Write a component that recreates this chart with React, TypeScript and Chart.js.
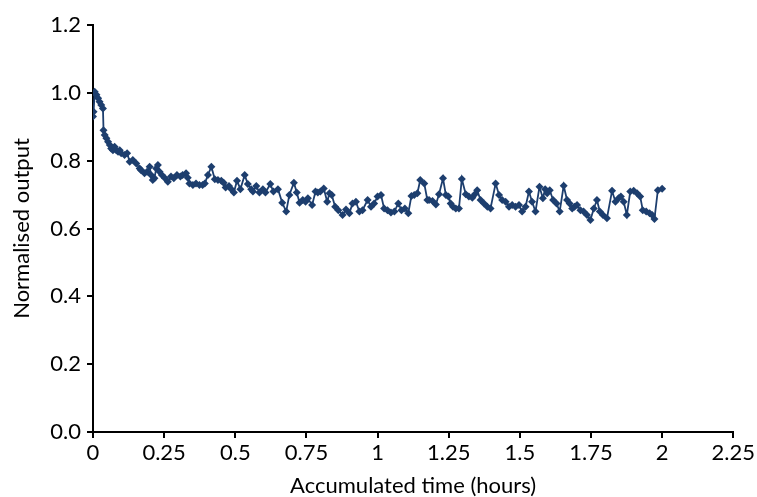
import React, { useEffect, useRef } from "react";
import { Chart, registerables } from "chart.js";

Chart.register(...registerables);

const times = [
  0.0, 0.002, 0.006, 0.012, 0.018, 0.023, 0.029, 0.035, 0.037, 0.041,
  0.047, 0.053, 0.059, 0.064, 0.07, 0.076, 0.082, 0.088, 0.094, 0.099,
  0.111, 0.12, 0.129, 0.14, 0.152, 0.164, 0.169, 0.181, 0.19, 0.199,
  0.204, 0.21, 0.216, 0.222, 0.228, 0.234, 0.242, 0.253, 0.263, 0.274,
  0.284, 0.295, 0.307, 0.315, 0.327, 0.333, 0.339, 0.351, 0.362, 0.374,
  0.385, 0.393, 0.404, 0.416, 0.428, 0.439, 0.451, 0.459, 0.466, 0.478,
  0.486, 0.495, 0.506, 0.518, 0.533, 0.544, 0.556, 0.562, 0.574, 0.585,
  0.597, 0.606, 0.623, 0.634, 0.65, 0.665, 0.679, 0.69, 0.706, 0.716,
  0.726, 0.737, 0.747, 0.755, 0.77, 0.782, 0.79, 0.799, 0.811, 0.823,
  0.831, 0.839, 0.851, 0.862, 0.877, 0.889, 0.901, 0.912, 0.924, 0.936,
  0.947, 0.965, 0.977, 0.988, 1.0, 1.012, 1.023, 1.035, 1.047, 1.059,
  1.073, 1.084, 1.096, 1.108, 1.119, 1.129, 1.14, 1.15, 1.164, 1.175,
  1.181, 1.193, 1.205, 1.216, 1.23, 1.24, 1.249, 1.257, 1.265, 1.275,
  1.286, 1.296, 1.31, 1.321, 1.333, 1.342, 1.35, 1.362, 1.374, 1.386,
  1.397, 1.415, 1.427, 1.438, 1.45, 1.462, 1.473, 1.485, 1.497, 1.508,
  1.52, 1.532, 1.543, 1.555, 1.569, 1.581, 1.589, 1.596, 1.605, 1.617,
  1.629, 1.64, 1.654, 1.666, 1.675, 1.684, 1.692, 1.701, 1.713, 1.724,
  1.736, 1.748, 1.76, 1.771, 1.781, 1.792, 1.806, 1.824, 1.836, 1.847,
  1.855, 1.865, 1.876, 1.888, 1.9, 1.912, 1.923, 1.932, 1.944, 1.956,
  1.965, 1.973, 1.985, 2.0,
];

const outputs = [
  0.93, 0.944, 1.003, 0.994, 0.984, 0.974, 0.964, 0.954, 0.89, 0.876,
  0.866, 0.856, 0.846, 0.836, 0.831, 0.841, 0.831, 0.826, 0.831, 0.822,
  0.817, 0.822, 0.797, 0.802, 0.792, 0.777, 0.772, 0.763, 0.767, 0.782,
  0.758, 0.743, 0.748, 0.777, 0.787, 0.767, 0.758, 0.748, 0.738, 0.753,
  0.748, 0.758, 0.753, 0.758, 0.763, 0.75, 0.733, 0.728, 0.733, 0.728,
  0.728, 0.733, 0.758, 0.782, 0.745, 0.743, 0.741, 0.735, 0.721, 0.725,
  0.716, 0.706, 0.741, 0.716, 0.758, 0.731, 0.716, 0.709, 0.725, 0.706,
  0.716, 0.706, 0.731, 0.709, 0.716, 0.676, 0.65, 0.699, 0.735, 0.706,
  0.676, 0.684, 0.679, 0.689, 0.669, 0.709, 0.706, 0.709, 0.718, 0.679,
  0.704, 0.699, 0.664, 0.654, 0.64, 0.656, 0.645, 0.674, 0.679, 0.65,
  0.654, 0.684, 0.664, 0.674, 0.694, 0.699, 0.659, 0.654, 0.647, 0.65,
  0.674, 0.654, 0.659, 0.645, 0.696, 0.699, 0.704, 0.743, 0.733, 0.684,
  0.684, 0.681, 0.671, 0.701, 0.748, 0.699, 0.694, 0.674, 0.664, 0.659,
  0.659, 0.746, 0.701, 0.694, 0.691, 0.701, 0.713, 0.684, 0.674, 0.664,
  0.659, 0.733, 0.699, 0.684, 0.679, 0.664, 0.669, 0.664, 0.669, 0.65,
  0.664, 0.709, 0.679, 0.65, 0.723, 0.689, 0.716, 0.704, 0.713, 0.684,
  0.674, 0.65, 0.726, 0.684, 0.674, 0.659, 0.664, 0.669, 0.654, 0.65,
  0.64, 0.625, 0.659, 0.684, 0.65, 0.64, 0.63, 0.711, 0.679, 0.689,
  0.694, 0.679, 0.64, 0.709, 0.711, 0.704, 0.694, 0.654, 0.65, 0.645,
  0.64, 0.628, 0.713, 0.717,
];

const xTitle = "Accumulated time (hours)";
const yTitle = "Normalised output";

export default function App() {
  const ref = useRef<HTMLCanvasElement | null>(null);

  useEffect(() => {
    if (!ref.current) return;
    const color = "#1d3e6e";
    const font = { family: "Lato", size: 22 };
    const titleFont = { family: "Lato", size: 22, lineHeight: 1.0 };
    const chart = new Chart(ref.current, {
      type: "scatter",
      data: {
        datasets: [
          {
            data: times.map((t, i) => ({ x: t, y: outputs[i] })),
            showLine: true,
            borderColor: color,
            backgroundColor: color,
            borderWidth: 1.8,
            pointStyle: "rectRot",
            pointRadius: 4,
            pointBorderWidth: 0,
          },
        ],
      },
      options: {
        animation: false,
        responsive: true,
        maintainAspectRatio: false,
        layout: { padding: { top: 25, right: 22, left: 0, bottom: 0 } },
        plugins: { legend: { display: false }, tooltip: { enabled: false } },
        scales: {
          x: {
            type: "linear",
            min: 0,
            max: 2.25,
            afterFit: (s: any) => {
              s.height = 65;
            },
            ticks: {
              stepSize: 0.25,
              color: "#000",
              font,
              padding: 2,
              maxRotation: 0,
              callback: (v: any) => String(Math.round(Number(v) * 100) / 100),
            },
            grid: {
              display: true,
              drawOnChartArea: false,
              drawTicks: true,
              tickLength: 6,
              color: "#000",
              lineWidth: 2,
            },
            border: { display: true, color: "#000", width: 2 },
            title: {
              display: true,
              text: xTitle,
              color: "#000",
              font: titleFont,
              padding: { top: 0, bottom: 0 },
            },
          },
          y: {
            min: 0,
            max: 1.2,
            afterFit: (s: any) => {
              s.width = 93;
            },
            ticks: {
              stepSize: 0.2,
              color: "#000",
              font,
              padding: 6,
              callback: (v: any) => Number(v).toFixed(1),
            },
            grid: {
              display: true,
              drawOnChartArea: false,
              drawTicks: true,
              tickLength: 6,
              color: "#000",
              lineWidth: 2,
            },
            border: { display: true, color: "#000", width: 2 },
            title: {
              display: true,
              text: yTitle,
              color: "#000",
              font: titleFont,
              padding: { top: 11, bottom: 0 },
            },
          },
        },
      },
    });
    return () => chart.destroy();
  }, []);

  return (
    <div
      style={{
        position: "fixed",
        left: 0,
        top: 0,
        width: 757,
        height: 497,
        background: "#fff",
      }}
    >
      <canvas ref={ref} />
    </div>
  );
}
